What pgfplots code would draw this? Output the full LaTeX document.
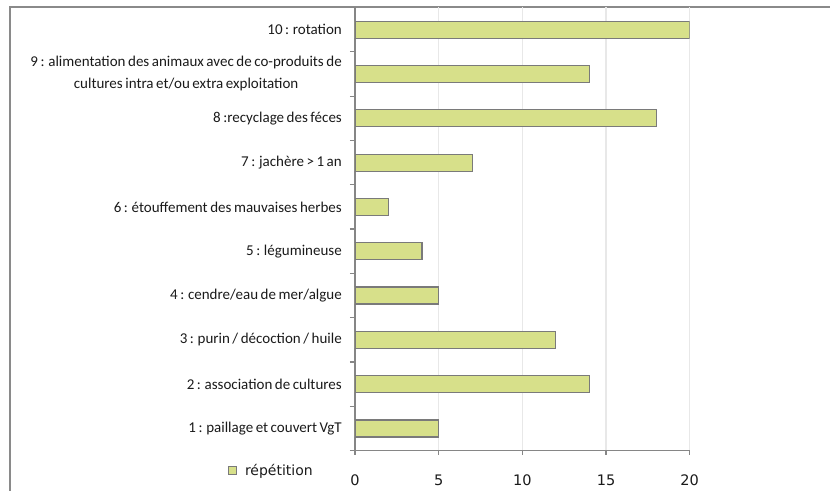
\documentclass[border=0pt]{standalone}
\usepackage{fontspec}
\setmainfont{Carlito}[WordSpace=0.75]
\newfontfamily\dv{DejaVu Sans}
\usepackage{pgfplots}
\pgfplotsset{compat=1.18}
\definecolor{barfill}{HTML}{D7E08A}
\definecolor{baredge}{HTML}{7A7A7A}
\definecolor{axgray}{HTML}{868686}
\definecolor{gridgray}{HTML}{E8E8E8}
\definecolor{framegray}{HTML}{8A8A8A}
\definecolor{txt}{HTML}{1A1A1A}
\begin{document}
\begin{tikzpicture}
\useasboundingbox (-355bp,-40.3bp) rectangle (475bp,450.7bp);
\draw[framegray, line width=2bp] (-345bp,-45bp) -- (-345bp,443.7bp) -- (480bp,443.7bp);
\begin{axis}[
  at={(0,0)}, anchor=south west,
  scale only axis, width=334.7bp, height=443.2bp,
  xmin=0, xmax=20, ymin=0.5, ymax=10.5,
  xbar, bar width=17bp,
  axis x line*=bottom, axis y line*=left,
  axis line style={axgray, line width=1.3bp, -},
  tick align=outside,
  major tick length=4bp, minor tick length=5bp,
  xtick={0,5,10,15,20},
  xmajorgrids, grid style={gridgray, line width=1.2bp},
  ytick={1,...,10},
  minor ytick={0.5,1.5,...,10.5},
  major y tick style={draw=none},
  minor y tick style={axgray, line width=1.2bp},
  major x tick style={axgray, line width=1.2bp},
  yticklabels={
    1 : paillage et couvert VgT,
    2 : association de cultures,
    3 : purin / décoction / huile,
    4 : cendre/eau de mer/algue,
    5 : légumineuse,
    6 : étouffement des mauvaises herbes,
    7 : jachère > 1 an,
    8 :recyclage des féces,
    {9 : alimentation des animaux avec de co-produits de\\cultures intra et/ou extra exploitation},
    10 : rotation},
  yticklabel style={font=\fontsize{15bp}{22bp}\selectfont, text=txt, align=center, inner sep=0pt, xshift=-9bp},
  xticklabel style={font=\dv\fontsize{14.5bp}{17bp}\selectfont, text=txt, inner sep=0pt, yshift=-20bp},
  /pgf/number format/assume math mode=true,
  legend style={at={(axis description cs:0,0)}, anchor=east, xshift=-42bp, yshift=-19.5bp,
    draw=none, fill=none, inner sep=0pt, font=\dv\fontsize{14bp}{17bp}\selectfont, text=txt,
    nodes={inner sep=0pt}, /tikz/every odd column/.append style={column sep=8bp}},
]
\addplot[fill=barfill, draw=baredge, line width=1.2bp,
  legend image code/.code={\draw[fill=barfill, draw=baredge, line width=1bp] (0bp,-4bp) rectangle (8bp,4bp);}]
  coordinates {(5,1) (14,2) (12,3) (5,4) (4,5) (2,6) (7,7) (18,8) (14,9) (20,10)};
\addlegendentry{répétition}
\end{axis}
\end{tikzpicture}
\end{document}
